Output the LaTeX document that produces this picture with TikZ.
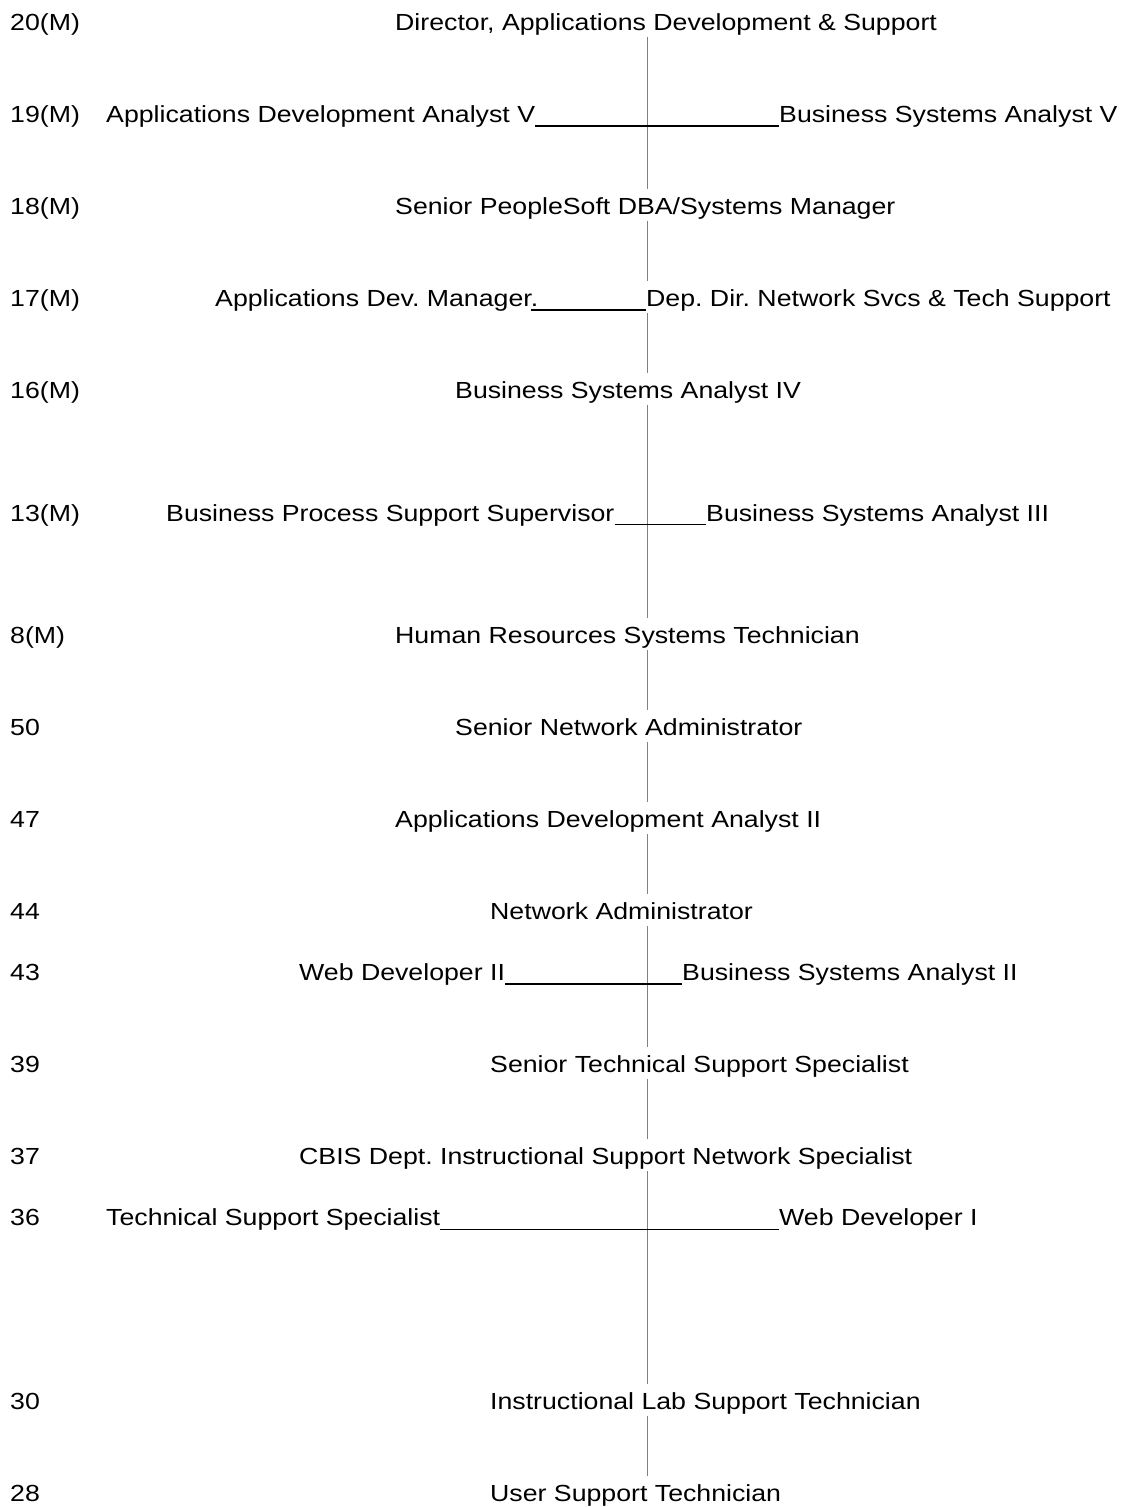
\documentclass[tikz,border=0pt]{standalone}
\usepackage{fontspec}
\setmainfont{Liberation Sans}[FakeStretch=1.146]
\usetikzlibrary{calc}
\definecolor{spinegray}{RGB}{128,128,128}

\begin{document}
\frenchspacing
\begin{tikzpicture}[x=1pt, y=-1pt,
  every node/.style={font=\fontsize{23.3pt}{28pt}\selectfont,
    inner xsep=0pt, inner ysep=6.3pt, text height=19.2pt, text depth=0pt,
    anchor=base west},
  spine/.style={draw=spinegray, line width=1pt},
  tabline/.style={draw=black, line width=1.5pt}]

\useasboundingbox[fill=white] (0,0) rectangle (1120,1507);

% grade column
\node (g20) at (10,30.7)   {20(M)};
\node (g19) at (10,122.6)  {19(M)};
\node (g18) at (10,214.6)  {18(M)};
\node (g17) at (10,306.5)  {17(M)};
\node (g16) at (10,398.5)  {16(M)};
\node (g13) at (10,521.0)  {13(M)};
\node (g8)  at (10,643.6)  {8(M)};
\node (g50) at (10,735.6)  {50};
\node (g47) at (10,827.5)  {47};
\node (g44) at (10,919.4)  {44};
\node (g43) at (10,980.7)  {43};
\node (g39) at (10,1072.7) {39};
\node (g37) at (10,1164.6) {37};
\node (g36) at (10,1225.9) {36};
\node (g30) at (10,1409.8) {30};
\node (g28) at (10,1501.7) {28};

% positions
\node (dir)  at (395,30.7)   {Director, Applications Development \& Support};
\node (adav) at (106,122.6)  {Applications Development Analyst V};
\node (bsav) at (779,122.6)  {Business Systems Analyst V};
\node (sps)  at (395,214.6)  {Senior PeopleSoft DBA/Systems Manager};
\node (adm)  at (215,306.5)  {Applications Dev. Manager.};
\node (dep)  at (646,306.5)  {Dep. Dir. Network Svcs \& Tech Support};
\node (bsa4) at (455,398.5)  {Business Systems Analyst IV};
\node (bpss) at (166,521.0)  {Business Process Support Supervisor};
\node (bsa3) at (706,521.0)  {Business Systems Analyst III};
\node (hr)   at (395,643.6)  {Human Resources Systems Technician};
\node (sna)  at (455,735.6)  {Senior Network Administrator};
\node (ada2) at (395,827.5)  {Applications Development Analyst II};
\node (na)   at (490,919.4)  {Network Administrator};
\node (wd2)  at (299,980.7)  {Web Developer II};
\node (bsa2) at (682,980.7)  {Business Systems Analyst II};
\node (stss) at (490,1072.7) {Senior Technical Support Specialist};
\node (cbis) at (299,1164.6) {CBIS Dept. Instructional Support Network Specialist};
\node (tss)  at (106,1225.9) {Technical Support Specialist};
\node (wd1)  at (779,1225.9) {Web Developer I};
\node (ilst) at (490,1409.8) {Instructional Lab Support Technician};
\node (ust)  at (490,1501.7) {User Support Technician};

% vertical reporting line
\coordinate (sx) at (647,0);
\draw[spine] (dir.south -| sx)  -- (sps.north -| sx);
\draw[spine] (sps.south -| sx)  -- (dep.north -| sx);
\draw[spine] (dep.south -| sx)  -- (bsa4.north -| sx);
\draw[spine] (bsa4.south -| sx) -- (hr.north -| sx);
\draw[spine] (hr.south -| sx)   -- (sna.north -| sx);
\draw[spine] (sna.south -| sx)  -- (ada2.north -| sx);
\draw[spine] (ada2.south -| sx) -- (na.north -| sx);
\draw[spine] (na.south -| sx)   -- (stss.north -| sx);
\draw[spine] (stss.south -| sx) -- (cbis.north -| sx);
\draw[spine] (cbis.south -| sx) -- (ilst.north -| sx);
\draw[spine] (ilst.south -| sx) -- (ust.north -| sx);

% peer links
\draw[tabline] ($(adav.base east)+(0,3.5)$) -- ($(bsav.base west)+(0,3.5)$);
\draw[tabline] ($(adm.base east)+(-7.4,3.5)$) -- ($(dep.base west)+(0,3.5)$);
\draw[tabline] ($(bpss.base east)+(0,3.5)$) -- ($(bsa3.base west)+(0,3.5)$);
\draw[tabline] ($(wd2.base east)+(0,3.5)$) -- ($(bsa2.base west)+(0,3.5)$);
\draw[tabline] ($(tss.base east)+(0,3.5)$) -- ($(wd1.base west)+(0,3.5)$);
\end{tikzpicture}
\end{document}
